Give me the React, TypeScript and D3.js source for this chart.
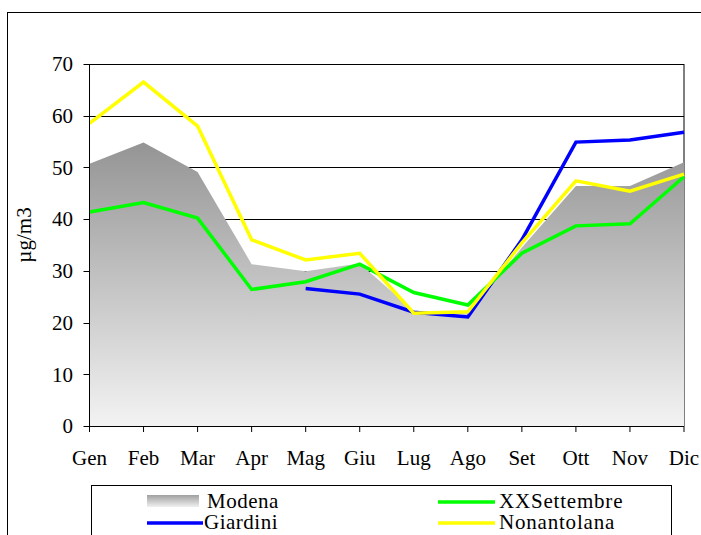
import React from "react";
import * as d3 from "d3";

const months = ["Gen", "Feb", "Mar", "Apr", "Mag", "Giu", "Lug", "Ago", "Set", "Ott", "Nov", "Dic"];
const modena = [50.7, 54.8, 49.1, 31.3, 29.9, 31.4, 22.3, 21.9, 34.5, 46.4, 46.4, 51.0];
const giardini: (number | null)[] = [null, null, null, null, 26.6, 25.5, 22.0, 21.1, 36.0, 54.9, 55.3, 56.8];
const xxSettembre = [41.4, 43.2, 40.2, 26.4, 27.9, 31.3, 25.8, 23.4, 33.4, 38.7, 39.1, 48.2];
const nonantolana = [58.5, 66.5, 58.0, 36.0, 32.1, 33.4, 21.8, 22.1, 35.4, 47.4, 45.4, 48.7];
const yTicks = [0, 10, 20, 30, 40, 50, 60, 70];

const FONT = "Liberation Serif, Times New Roman, serif";

export default function App() {
  const x0 = 89.5, x1 = 684;
  const yTop = 64, yBot = 426;
  const x = d3.scalePoint<string>().domain(months).range([x0, x1]);
  const y = d3.scaleLinear().domain([0, 70]).range([yBot, yTop]);

  const area = d3.area<number>()
    .x((_, i) => x(months[i])!)
    .y0(y(0))
    .y1((d) => y(d));
  const line = d3.line<number | null>()
    .defined((d) => d !== null)
    .x((_, i) => x(months[i])!)
    .y((d) => y(d as number));

  const series = [
    { name: "Giardini", data: giardini, color: "#0000FF" },
    { name: "XXSettembre", data: xxSettembre, color: "#00FF00" },
    { name: "Nonantolana", data: nonantolana, color: "#FFFF00" },
  ];

  return (
    <svg width={701} height={535} style={{ position: "absolute", left: 0, top: 0, background: "#fff" }}>
      <defs>
        <linearGradient id="modGrad" gradientUnits="userSpaceOnUse" x1={0} y1={y(55)} x2={0} y2={y(0)}>
          <stop offset="0" stopColor="#949494" />
          <stop offset="1" stopColor="#f3f3f3" />
        </linearGradient>
        <linearGradient id="legGrad" x1="0" y1="0" x2="0" y2="1">
          <stop offset="0" stopColor="#a0a0a0" />
          <stop offset="1" stopColor="#f0f0f0" />
        </linearGradient>
      </defs>
      <rect x={7.5} y={12.5} width={720} height={560} fill="none" stroke="#000" strokeWidth={1} />
      {yTicks.filter((t) => t > 0).map((t) => (
        <line key={t} x1={x0} x2={x1} y1={Math.round(y(t)) + 0.5} y2={Math.round(y(t)) + 0.5} stroke="#000" strokeWidth={1} />
      ))}
      <line x1={x1} x2={x1} y1={yTop} y2={yBot} stroke="#000" strokeWidth={1} />
      <path d={area(modena) || ""} fill="url(#modGrad)" />
      {series.map((s) => (
        <path key={s.name} d={line(s.data) || ""} fill="none" stroke={s.color} strokeWidth={3.5} strokeLinejoin="miter" />
      ))}
      <line x1={x0} x2={x0} y1={yTop} y2={yBot} stroke="#000" strokeWidth={1} />
      <line x1={x0} x2={x1} y1={yBot + 0.5} y2={yBot + 0.5} stroke="#000" strokeWidth={1} />
      {yTicks.map((t) => (
        <g key={t}>
          <line x1={x0 - 6} x2={x0} y1={Math.round(y(t)) + 0.5} y2={Math.round(y(t)) + 0.5} stroke="#000" />
          <text x={73} y={y(t)} dy="0.35em" textAnchor="end" fontFamily={FONT} fontSize={21}>{t}</text>
        </g>
      ))}
      {months.map((m) => (
        <g key={m}>
          <line x1={x(m)!} x2={x(m)!} y1={yBot} y2={yBot + 6} stroke="#000" />
          <text x={x(m)!} y={465} textAnchor="middle" fontFamily={FONT} fontSize={21}>{m}</text>
        </g>
      ))}
      <text transform={`translate(31,235) rotate(-90)`} textAnchor="middle" fontFamily={FONT} fontSize={21}>µg/m3</text>
      <rect x={91.5} y={485.5} width={580} height={80} fill="#fff" stroke="#000" strokeWidth={1} />
      <rect x={147} y={495} width={52} height={12} fill="url(#legGrad)" />
      <text x={207} y={508} fontFamily={FONT} fontSize={21} letterSpacing={0.5}>Modena</text>
      <line x1={147} x2={203} y1={523} y2={523} stroke="#0000FF" strokeWidth={3.5} />
      <text x={204} y={529} fontFamily={FONT} fontSize={21} letterSpacing={0.5}>Giardini</text>
      <line x1={438} x2={495} y1={502} y2={502} stroke="#00FF00" strokeWidth={3.5} />
      <text x={499} y={508} fontFamily={FONT} fontSize={21} letterSpacing={0.8}>XXSettembre</text>
      <line x1={438} x2={495} y1={523} y2={523} stroke="#FFFF00" strokeWidth={3.5} />
      <text x={499} y={529} fontFamily={FONT} fontSize={21} letterSpacing={0.8}>Nonantolana</text>
    </svg>
  );
}
